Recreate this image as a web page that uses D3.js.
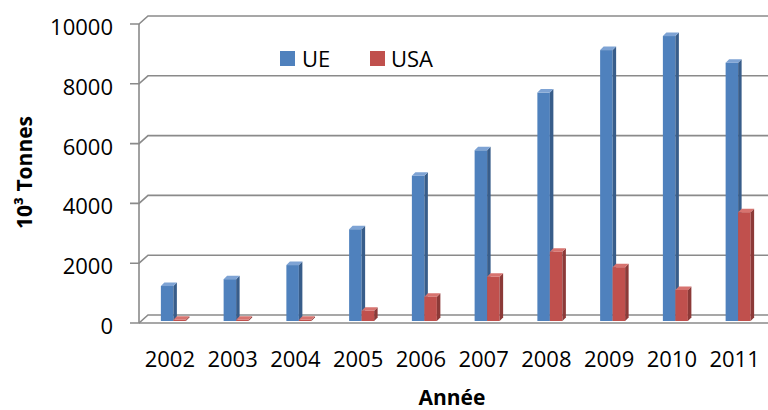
<!DOCTYPE html>
<html>
<head>
<meta charset="utf-8">
<script src="https://cdn.jsdelivr.net/npm/d3@7"></script>
<style>
  html, body { margin: 0; padding: 0; background: #fff; }
  svg { display: block; font-family: "Open Sans", sans-serif; }
  .grid { stroke: #8a8a8a; stroke-width: 1.6; fill: none; }
  .tick-label { font-size: 22px; fill: #000; }
  .title { font-size: 21px; font-weight: 700; fill: #000; }
</style>
</head>
<body>
<svg id="chart" width="768" height="410"></svg>
<script>
const years = ['2002', '2003', '2004', '2005', '2006', '2007', '2008', '2009', '2010', '2011'];
const ue = [1170, 1400, 1870, 3070, 4860, 5710, 7640, 9060, 9530, 8640];
const usa = [40, 40, 40, 345, 815, 1480, 2320, 1800, 1040, 3640];
const yTicks = [0, 2000, 4000, 6000, 8000, 10000];
const seriesNames = ['UE', 'USA'];

(() => {
  const W = 768, H = 410;
  const svg = d3.select('#chart');
  const AX = 139;            // front left edge of the plot
  const WALL = { dx: 9, dy: -8 };   // depth of side wall / floor
  const BAR = { w: 12.5, dx: 3.5, dy: -3.5 };
  const colors = {
    UE: { front: '#4f81bd', side: '#385d8a', top: '#7ea3d4' },
    USA: { front: '#c0504d', side: '#8c3a38', top: '#d7736f' }
  };

  const y = d3.scaleLinear().domain([0, 10000]).range([323, 24]);
  const yBar = v => y(v) - 2;
  const x = d3.scaleBand().domain(years).range([142, 142 + 62.75 * years.length]).padding(0);

  // gridlines: tick, diagonal on side wall, back wall line
  const g = svg.append('g');
  yTicks.forEach(t => {
    const yy = y(t);
    g.append('path').attr('class', 'grid')
      .attr('d', `M${AX - 9},${yy}H${AX}L${AX + WALL.dx},${yy + WALL.dy}H${W}`);
    g.append('text').attr('class', 'tick-label')
      .attr('x', 113).attr('y', yy + 2)
      .attr('text-anchor', 'end').attr('dominant-baseline', 'central')
      .text(t);
  });
  // left axis + floor front edge
  g.append('path').attr('class', 'grid').attr('d', `M${AX},${y(10000)}V${y(0)}`);
  g.append('path').attr('class', 'grid').attr('d', `M${AX},${y(0)}H${W}`);

  // bars
  const drawBar = (bx, v, c) => {
    const yb = yBar(0), yt = yBar(v), w = BAR.w;
    const bg = svg.append('g');
    bg.append('rect').attr('x', bx).attr('y', yt).attr('width', w).attr('height', yb - yt).attr('fill', c.front);
    bg.append('path').attr('fill', c.side)
      .attr('d', `M${bx + w},${yb}L${bx + w + BAR.dx},${yb + BAR.dy}V${yt + BAR.dy}L${bx + w},${yt}Z`);
    bg.append('path').attr('fill', c.top)
      .attr('d', `M${bx},${yt}L${bx + BAR.dx},${yt + BAR.dy}H${bx + w + BAR.dx}L${bx + w},${yt}Z`);
  };
  years.forEach((yr, i) => {
    const cx = x(yr) + x.bandwidth() / 2;
    drawBar(cx - BAR.w, ue[i], colors.UE);
    drawBar(cx, usa[i], colors.USA);
  });

  // category labels
  svg.append('g').selectAll('text').data(years).join('text')
    .attr('class', 'tick-label')
    .attr('x', d => x(d) + x.bandwidth() / 2 - 3.5)
    .attr('y', 367)
    .attr('text-anchor', 'middle')
    .text(d => d);

  // legend
  const lg = svg.append('g');
  [[280, 302], [370, 391]].forEach(([rx, tx], i) => {
    const name = seriesNames[i];
    lg.append('rect').attr('x', rx).attr('y', 51).attr('width', 15).attr('height', 15).attr('fill', colors[name].front);
    lg.append('text').attr('class', 'tick-label').attr('x', tx).attr('y', 66.5).text(name);
  });

  // axis titles
  svg.append('text').attr('class', 'title')
    .attr('x', 452).attr('y', 405).attr('text-anchor', 'middle')
    .text('Année');
  svg.append('text').attr('class', 'title')
    .attr('transform', 'translate(32,172.5) rotate(-90)')
    .attr('text-anchor', 'middle')
    .text('10³ Tonnes');
})();
</script>
</body>
</html>
